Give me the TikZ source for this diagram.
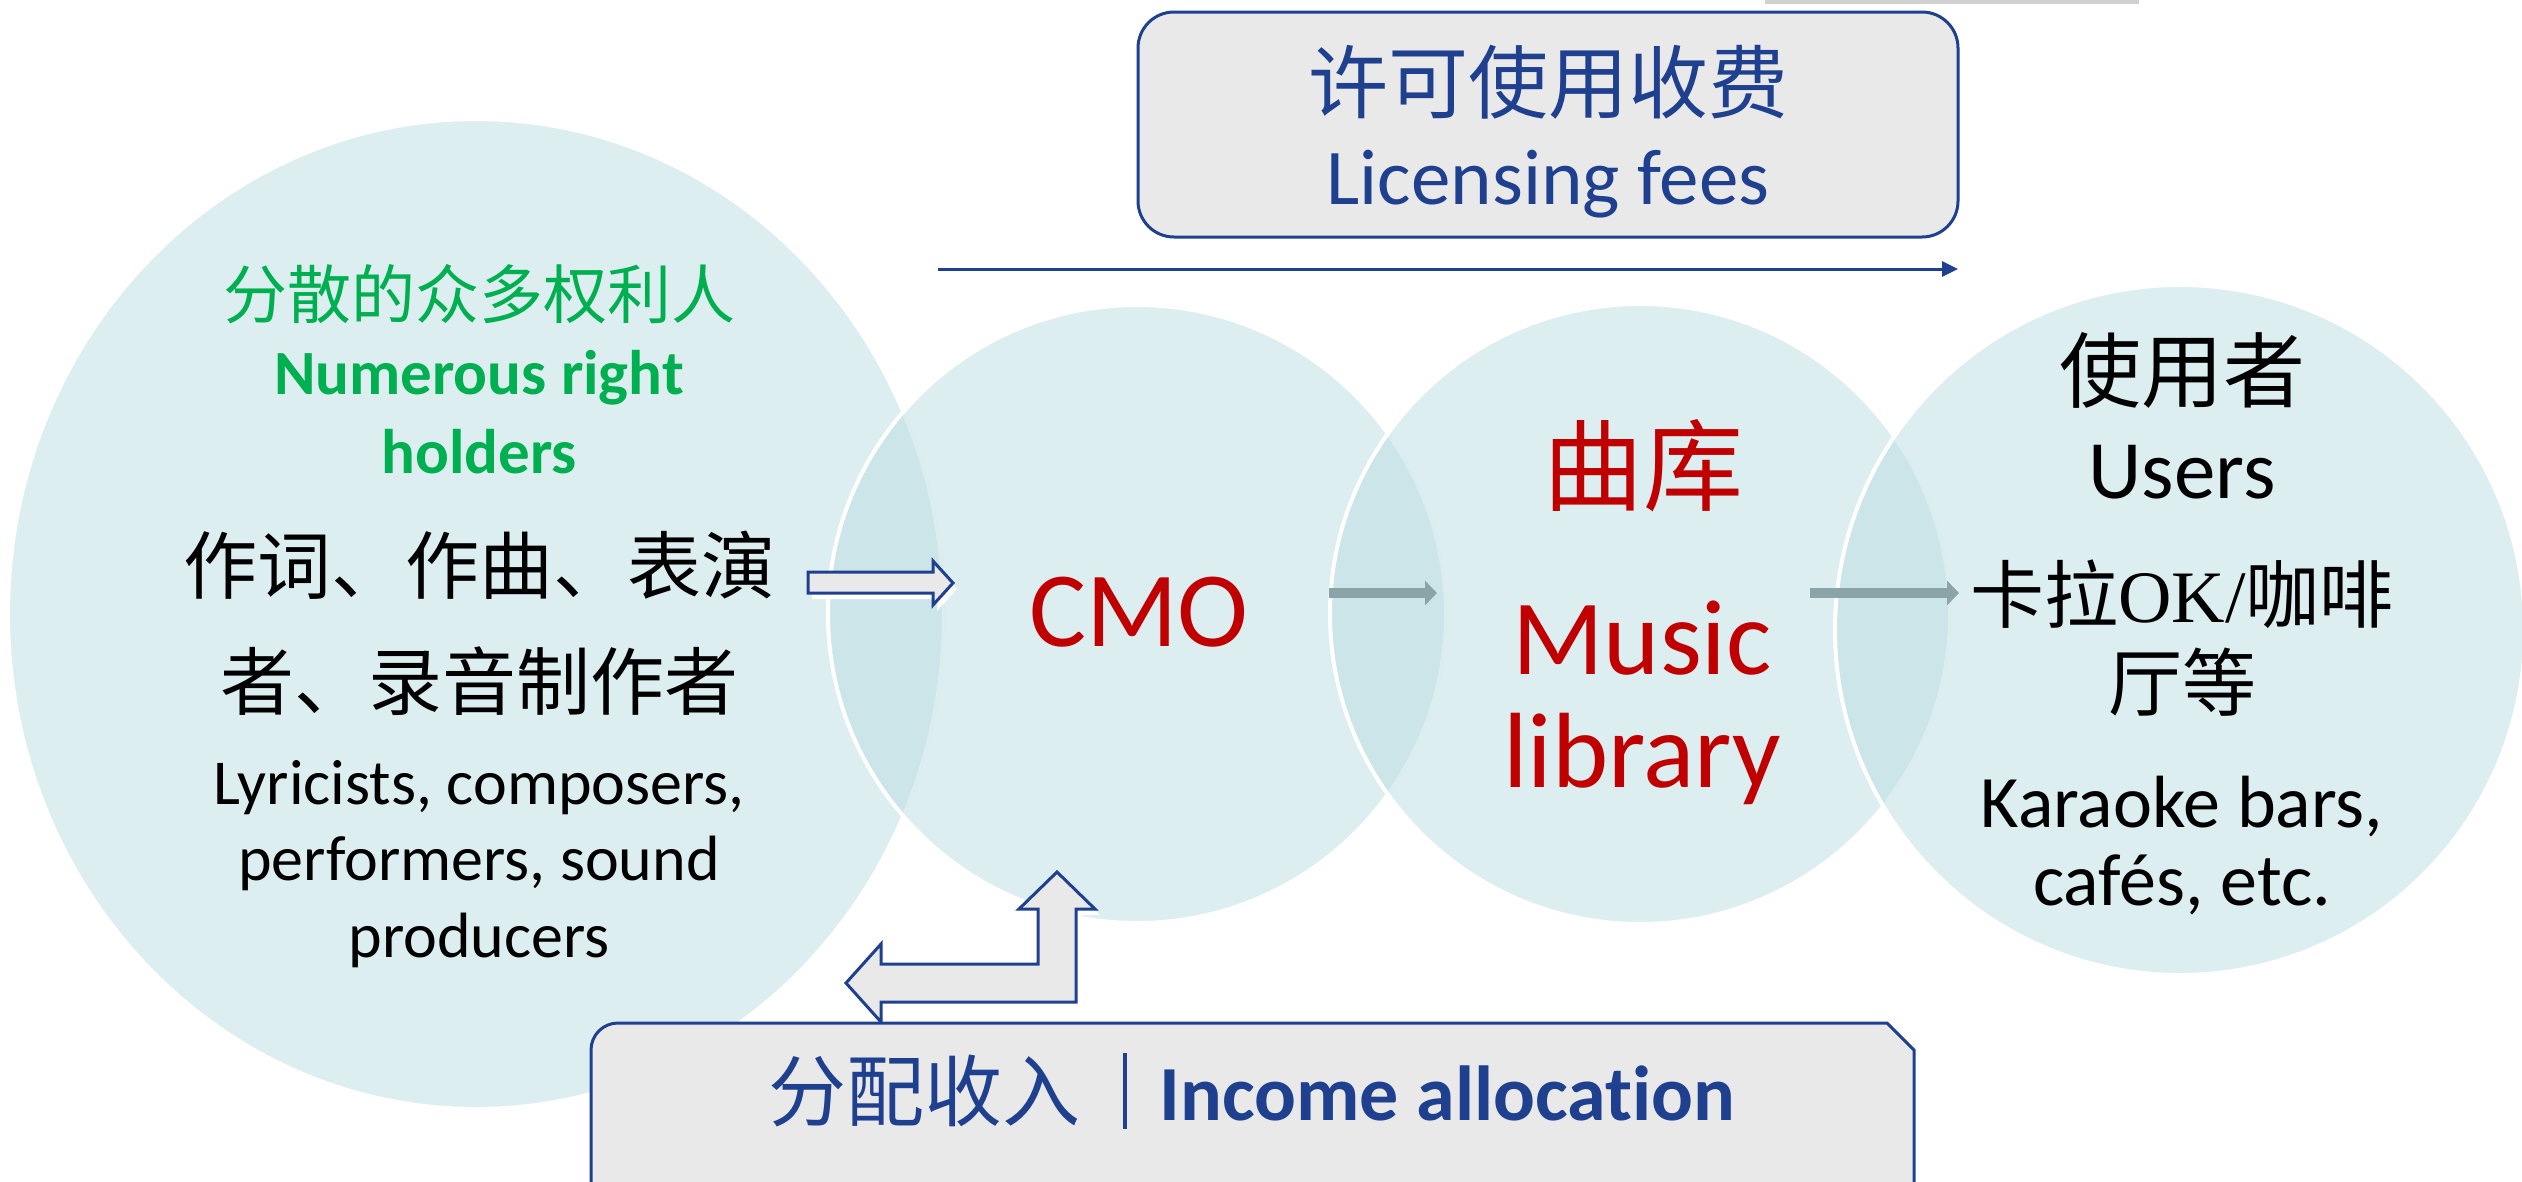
\documentclass[tikz,border=0pt]{standalone}
\usepackage{fontspec}
\setmainfont{Carlito}[Ligatures=NoCommon]
\newfontfamily\cjk{Noto Sans CJK SC}
\newfontfamily\tms{Liberation Serif}
\usetikzlibrary{arrows.meta,shapes.geometric}
\definecolor{cfill}{RGB}{187,221,226}
\definecolor{dblue}{RGB}{31,64,143}
\definecolor{boxgray}{RGB}{233,233,233}
\definecolor{rgreen}{RGB}{0,176,80}
\definecolor{dred}{RGB}{192,0,0}
\definecolor{garrow}{RGB}{139,164,167}
\newcommand\setfs[1]{\fontsize{#1}{#1}\selectfont}
\begin{document}
\begin{tikzpicture}[x=1pt,y=-1pt,
  bubble/.style={fill=cfill, fill opacity=0.5, draw=white, draw opacity=1, line width=4pt, inner sep=0pt, outer sep=0pt},
  txt/.style={inner sep=0pt, anchor=base},
  hollow/.style={fill=boxgray, draw=dblue, line width=3pt, line join=miter},
  shadowc/.style={fill=white},
  grayarrow/.style={draw=garrow, line width=10pt, -{Triangle[length=12pt,width=24pt]}},
  bluebox/.style={fill=boxgray, draw=dblue, line width=3pt}]
\useasboundingbox (0,0) rectangle (2522,1181);
% top-right strip
\fill[black!18] (1765,0) rectangle (2139,4);
% circles
\node[bubble, ellipse, minimum width=936pt, minimum height=990pt] (holders) at (476,614) {};
\node[bubble, circle, minimum size=618pt] (cmo) at (1137,614) {};
\node[bubble, circle, minimum size=620pt] (lib) at (1640,614) {};
\node[bubble, circle, minimum size=690pt] (users) at (2180,630) {};
% licensing box
\node[bluebox, rounded corners=36pt, minimum width=820pt, minimum height=225pt] (licbox) at (1548,124.5) {};
\coordinate (licA) at (938,269);
\coordinate (licB) at (1958,269);
\draw[dblue, line width=3pt, -{Triangle[length=16pt,width=15pt]}] (licA) -- (licB);
% hollow arrow holders -> CMO
\fill[shadowc] (812,578) -- (937,578) -- (937,567) -- (957,589) -- (937,611) -- (937,599) -- (812,599) -- cycle;
\draw[hollow] (808,572) -- (933,572) -- (933,561) -- (953,583) -- (933,605) -- (933,593) -- (808,593) -- cycle;
% gray arrows
\coordinate (g1a) at (1329,593);
\coordinate (g1b) at (1437,593);
\coordinate (g2a) at (1810,593);
\coordinate (g2b) at (1959,593);
\draw[grayarrow] (g1a) -- (g1b);
\draw[grayarrow] (g2a) -- (g2b);
% bent arrow
\fill[shadowc] (851,989) -- (886,950) -- (886,970) -- (1043,970) -- (1043,915) -- (1024,915) -- (1062,878) -- (1100,915) -- (1081,915) -- (1081,1008) -- (886,1008) -- (886,1028) -- cycle;
\draw[hollow] (846,983) -- (881,944) -- (881,964) -- (1038,964) -- (1038,909) -- (1019,909) -- (1057,872) -- (1095,909) -- (1076,909) -- (1076,1002) -- (881,1002) -- (881,1022) -- cycle;
% income box
\draw[bluebox] (591,1200) -- (591,1050) arc[start angle=180, end angle=90, radius=27pt] -- (1887,1023) -- (1914,1050) -- (1914,1200) -- cycle;
% texts: holders
\node[txt, rgreen, font=\cjk\setfs{64}] (h1) at (479,318) {分散的众多权利人};
\node[txt, rgreen, font=\bfseries\setfs{63}] (h2) at (479,394) {Numerous right};
\node[txt, rgreen, font=\bfseries\setfs{63}] (h3) at (479,473) {holders};
\node[txt, font=\cjk\setfs{74}] (h4) at (479,593) {作词、作曲、表演};
\node[txt, font=\cjk\setfs{74}] (h5) at (479,709) {者、录音制作者};
\node[txt, font=\setfs{64}] (h6) at (479,804) {Lyricists, composers,};
\node[txt, font=\setfs{64}] (h7) at (479,880) {performers, sound};
\node[txt, font=\setfs{64}] (h8) at (479,957) {producers};
% CMO
\node[txt, dred, font=\setfs{107}] (c1) at (1139,646) {CMO};
% library
\node[txt, dred, font=\cjk\setfs{100}] (l1) at (1643,503) {曲库};
\node[txt, dred, font=\setfs{107}] (l2) at (1642,674) {Music};
\node[txt, dred, font=\setfs{107}] (l3) at (1642,787) {library};
% users
\node[txt, font=\cjk\setfs{82}] (u1) at (2182,401) {使用者};
\node[txt, font=\setfs{83}] (u2) at (2182,498) {Users};
\node[txt, font=\cjk\setfs{74}] (u3) at (2182,622) {卡拉{\tms OK/}咖啡};
\node[txt, font=\cjk\setfs{74}] (u4) at (2182,710) {厅等};
\node[txt, font=\setfs{74}] (u5) at (2182,827) {Karaoke bars,};
\node[txt, font=\setfs{74}] (u6) at (2182,905) {cafés, etc.};
% licensing text
\node[txt, dblue, font=\cjk\setfs{80}] (t1) at (1548,112) {许可使用收费};
\node[txt, dblue, font=\setfs{79}] (t2) at (1548,204) {Licensing fees};
% income text
\node[txt, dblue, font=\setfs{78}] (t3) at (1252,1120) {{\cjk 分配收入}\hspace{42pt}\rule[-9pt]{4pt}{76pt}\hspace{33pt}{\bfseries Income allocation}};
\end{tikzpicture}
\end{document}
